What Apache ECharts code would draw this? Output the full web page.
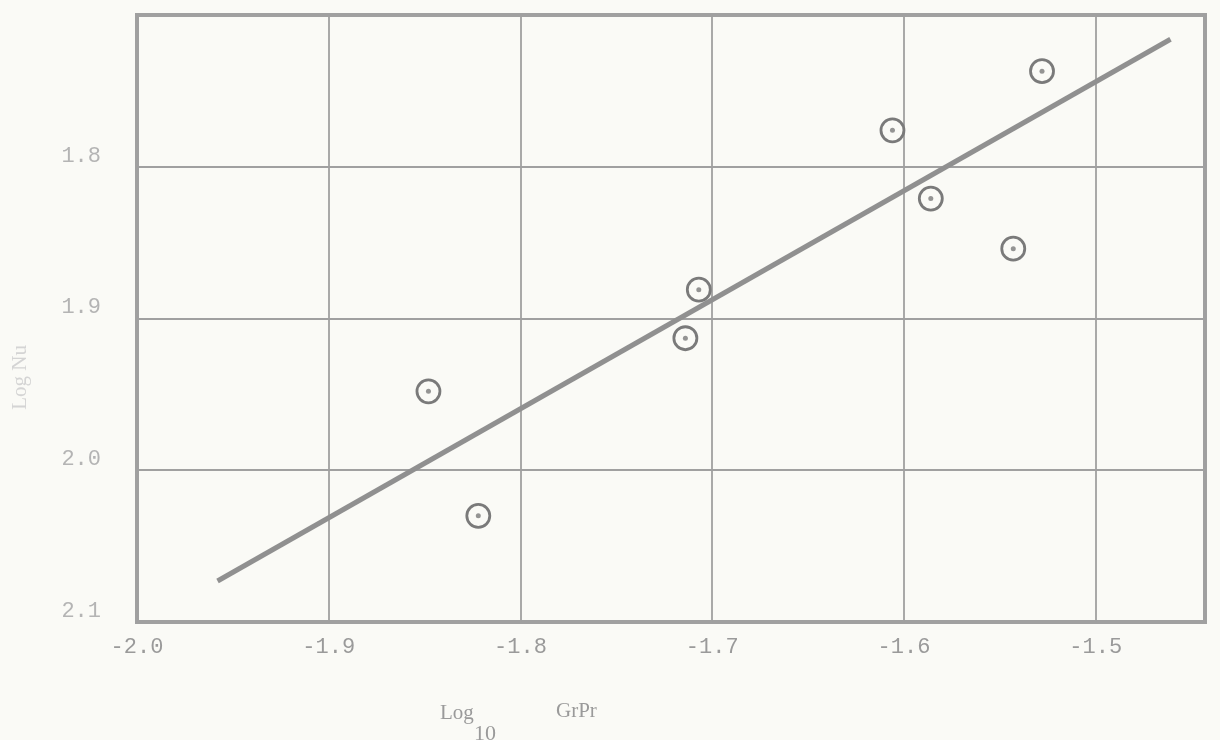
<!DOCTYPE html>
<html>
<head>
<meta charset="utf-8">
<script src="https://cdn.jsdelivr.net/npm/echarts@6/dist/echarts.min.js"></script>
<style>
html,body{margin:0;padding:0;background:#fafaf6;}
#c{width:1220px;height:740px;}
</style>
</head>
<body>
<div id="c"></div>
<script>
// Data
const xTickLabels = ['-2.0', '-1.9', '-1.8', '-1.7', '-1.6', '-1.5'];
const yTickLabels = ['', '1.8', '1.9', '2.0', '2.1'];
const pointsX = [-1.848, -1.822, -1.714, -1.707, -1.606, -1.586, -1.543, -1.528];
const pointsY = [1.948, 2.030, 1.913, 1.881, 1.776, 1.821, 1.854, 1.737];
const fitX = [-1.958, -1.461];
const fitY = [2.073, 1.716];
const xTitle = ['Log', '10', 'GrPr'];
const yTitle = 'Log Nu';

const pts = pointsX.map((x, i) => [x, pointsY[i]]);
const fit = fitX.map((x, i) => [x, fitY[i]]);

const chart = echarts.init(document.getElementById('c'), null, {renderer: 'canvas'});
const labelFont = {fontFamily: 'Liberation Mono', fontSize: 22, color: '#9a9a9a'};

chart.setOption({
  backgroundColor: '#fafaf6',
  animation: false,
  grid: {left: 137, right: 15, top: 15, bottom: 118, show: true, borderColor: '#a0a0a0', borderWidth: 4, backgroundColor: 'transparent'},
  xAxis: {
    type: 'value', min: -2.0, max: -1.443, interval: 0.1,
    axisLine: {show: false}, axisTick: {show: false},
    splitLine: {show: true, lineStyle: {color: '#a0a0a0', width: 1.8}},
    axisLabel: Object.assign({
      margin: 14,
      formatter: v => {
        const i = Math.round((v + 2.0) / 0.1);
        return (Math.abs(v - (-2.0 + i * 0.1)) < 1e-6 && xTickLabels[i] !== undefined) ? xTickLabels[i] : '';
      },
      showMaxLabel: false
    }, labelFont)
  },
  yAxis: {
    type: 'value', min: 1.7, max: 2.1, interval: 0.1, inverse: true,
    axisLine: {show: false}, axisTick: {show: false},
    splitLine: {show: true, lineStyle: {color: '#a0a0a0', width: 1.8}},
    axisLabel: Object.assign({
      margin: 36,
      verticalAlign: 'bottom',
      formatter: v => {
        const i = Math.round((v - 1.7) / 0.1);
        return yTickLabels[i] !== undefined ? yTickLabels[i] : '';
      }
    }, labelFont, {color: '#b4b4b4'})
  },
  series: [
    {
      type: 'line', data: fit, showSymbol: false, symbol: 'none',
      lineStyle: {color: '#909090', width: 5}, z: 3
    },
    {
      type: 'scatter', data: pts, symbol: 'circle', symbolSize: 23,
      itemStyle: {color: 'rgba(250,250,246,0)', borderColor: '#7a7a7a', borderWidth: 2.8, opacity: 1}, z: 4
    },
    {
      type: 'scatter', data: pts, symbol: 'circle', symbolSize: 5,
      itemStyle: {color: '#7a7a7a'}, z: 5
    }
  ],
  graphic: [
    {type: 'text', left: 440, top: 703, style: {text: xTitle[0], font: '21px "Liberation Serif"', fill: '#9a9a9a'}},
    {type: 'text', left: 474, top: 723, style: {text: xTitle[1], font: '22px "Liberation Serif"', fill: '#9a9a9a'}},
    {type: 'text', left: 556, top: 701, style: {text: xTitle[2], font: '21px "Liberation Serif"', fill: '#9a9a9a'}},
    {type: 'text', left: 10, top: 345, rotation: Math.PI / 2, originX: 0, originY: 0,
      style: {text: yTitle, font: '21px "Liberation Serif"', fill: '#d4d4d4', align: 'center', verticalAlign: 'middle'}}
  ]
});
</script>
</body>
</html>
